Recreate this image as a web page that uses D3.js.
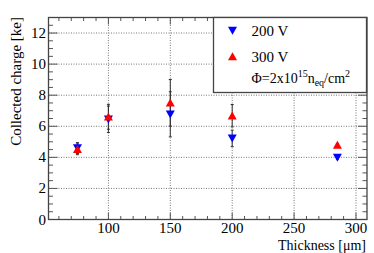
<!DOCTYPE html>
<html><head><meta charset="utf-8">
<script src="https://cdn.jsdelivr.net/npm/d3@7"></script>
<style>body{margin:0;background:#fff}svg{display:block}
svg text{font-family:"Liberation Serif","Times New Roman",Times,Tinos,"Noto Serif","DejaVu Serif",FreeSerif,serif}</style>
</head><body><svg id="c" width="374" height="253"></svg>
<script>
const thickness = [75, 100, 150, 200, 285];
const v200 = [4.6, 6.45, 6.77, 5.22, 3.98];
const v200err = [0.35, 0.85, 1.45, 0.53, 0.1];
const v300 = [4.52, 6.61, 7.51, 6.68, 4.79];
const v300err = [0.35, 0.8, 1.5, 0.72, 0.1];
const xTicks = [100, 150, 200, 250, 300];
const yTicks = [0, 2, 4, 6, 8, 10, 12];
const legendLabels = ["200 V", "300 V"];

const svg = d3.select("#c");
const L = 48.5, R = 367, T = 17.5, B = 219.5;
const x = d3.scaleLinear().domain([51.6, 308.9]).range([L, R]);
const y = d3.scaleLinear().domain([0, 13]).range([B, T]);

// grid
const g = svg.append("g");
g.selectAll(".gx").data(xTicks).join("line")
  .attr("x1", d => x(d)).attr("x2", d => x(d)).attr("y1", T).attr("y2", B)
  .attr("stroke", "#777").attr("stroke-dasharray", "1,1.5").attr("stroke-width", 1);
g.selectAll(".gy").data(yTicks.filter(d => d > 0)).join("line")
  .attr("x1", L).attr("x2", R).attr("y1", d => y(d)).attr("y2", d => y(d))
  .attr("stroke", "#777").attr("stroke-dasharray", "1,1.5").attr("stroke-width", 1);

// ticks
const xMinor = d3.range(60, 301, 10);
const yMinor = d3.range(0, 13.01, 0.5);
const tk = svg.append("g").attr("stroke", "#555").attr("stroke-width", 1);
xMinor.forEach(v => {
  const len = xTicks.includes(v) ? 7 : 3.5;
  tk.append("line").attr("x1", x(v)).attr("x2", x(v)).attr("y1", B).attr("y2", B - len);
  tk.append("line").attr("x1", x(v)).attr("x2", x(v)).attr("y1", T).attr("y2", T + len);
});
yMinor.forEach(v => {
  const len = (v % 2 === 0) ? 9 : 4.5;
  tk.append("line").attr("x1", L).attr("x2", L + len).attr("y1", y(v)).attr("y2", y(v));
  tk.append("line").attr("x1", R).attr("x2", R - len).attr("y1", y(v)).attr("y2", y(v));
});

// frame
svg.append("rect").attr("x", L).attr("y", T).attr("width", R - L).attr("height", B - T)
  .attr("fill", "none").attr("stroke", "#444").attr("stroke-width", 1.3);

// tick labels
svg.selectAll(".xl").data(xTicks).join("text")
  .attr("x", d => x(d)).attr("y", 233).attr("text-anchor", "middle")
  .attr("font-size", 15).attr("fill", "#000").text(d => d);
svg.selectAll(".yl").data(yTicks).join("text")
  .attr("x", 46).attr("y", d => y(d) + 5).attr("text-anchor", "end")
  .attr("font-size", 15).attr("fill", "#000").text(d => d);

// axis titles
svg.append("text").attr("x", 366).attr("y", 250).attr("text-anchor", "end")
  .attr("font-size", 14).text("Thickness [μm]");
svg.append("text").attr("transform", "translate(21,17) rotate(-90)")
  .attr("text-anchor", "end").attr("font-size", 15).text("Collected charge [ke]");

// markers
const down = "M-4.5,-3.8L4.5,-3.8L0,4.2Z";
const up = "M-4.5,3.8L4.5,3.8L0,-4.2Z";
function series(vals, errs, color, path) {
  const s = svg.append("g");
  vals.forEach((v, i) => {
    const cx = x(thickness[i]);
    s.append("line").attr("x1", cx).attr("x2", cx).attr("y1", y(v - errs[i])).attr("y2", y(v + errs[i]))
      .attr("stroke", "#333").attr("stroke-width", 1);
    [v - errs[i], v + errs[i]].forEach(e => s.append("line").attr("x1", cx - 1.5).attr("x2", cx + 1.5)
      .attr("y1", y(e)).attr("y2", y(e)).attr("stroke", "#333").attr("stroke-width", 1));
  });
  return () => vals.forEach((v, i) => {
    svg.append("path").attr("d", path).attr("fill", color)
      .attr("transform", `translate(${x(thickness[i])},${y(v)})`);
  });
}
const d1 = series(v200, v200err, "#0000ff", down);
const d2 = series(v300, v300err, "#ff0000", up);
d1(); d2();

// legend
svg.append("rect").attr("x", 213.5).attr("y", 17.5).attr("width", 153).attr("height", 75)
  .attr("fill", "#fff").attr("stroke", "#444").attr("stroke-width", 1.3);
svg.append("path").attr("d", down).attr("fill", "#0000ff").attr("transform", "translate(232.5,30.5)");
svg.append("path").attr("d", up).attr("fill", "#ff0000").attr("transform", "translate(232.5,56.5)");
svg.append("text").attr("x", 251.5).attr("y", 35.5).attr("font-size", 15).text(legendLabels[0]);
svg.append("text").attr("x", 251.5).attr("y", 61.5).attr("font-size", 15).text(legendLabels[1]);
const t = svg.append("text").attr("x", 251.5).attr("y", 83).attr("font-size", 14);
t.append("tspan").text("Φ=2x10");
t.append("tspan").attr("dy", -6).attr("font-size", 10).text("15");
t.append("tspan").attr("dy", 6).text("n");
t.append("tspan").attr("dy", 3).attr("font-size", 10).text("eq");
t.append("tspan").attr("dy", -3).text("/cm");
t.append("tspan").attr("dy", -6).attr("font-size", 10).text("2");
</script></body></html>
